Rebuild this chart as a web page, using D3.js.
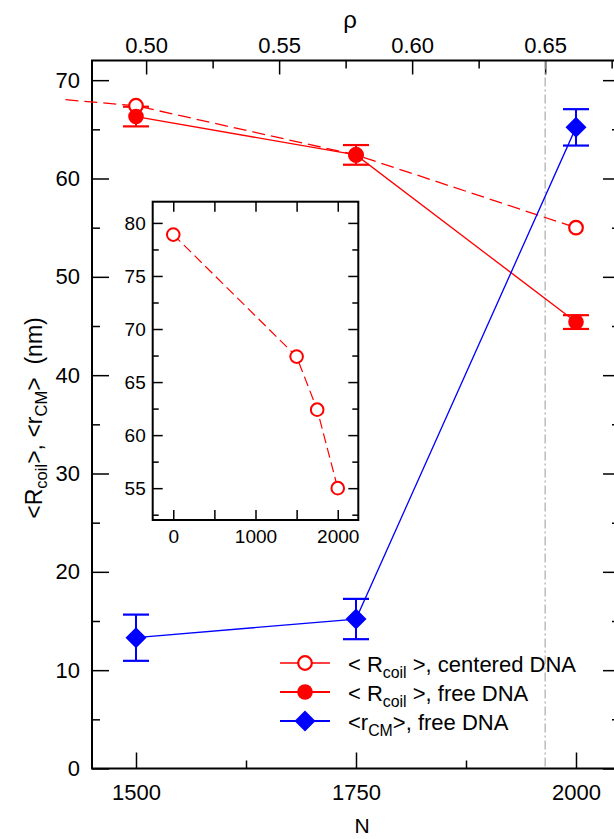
<!DOCTYPE html>
<html>
<head>
<meta charset="utf-8">
<script src="https://cdn.jsdelivr.net/npm/d3@7"></script>
<style>
    body { margin: 0; background: #fff; }
    svg { display: block; font-family: 'Liberation Sans', Arial, sans-serif; }
</style>
</head>
<body>
<svg id="chart"></svg>
<script>
// Data
const nValues = [1500, 1750, 2000];
const rCoilFree = [66.3, 62.4, 45.4];
const rCoilFreeErr = [1.0, 1.0, 0.7];
const rCM = [13.3, 15.2, 65.2];
const rCMErr = [2.35, 2.05, 1.85];

// centered DNA series (also shown in the inset, incl. N = 0)
const nCentered = [0, 1500, 1750, 2000];
const rCoilCentered = [78.9, 67.4, 62.4, 55.0];

// tick values
const nTicks = [1500, 1750, 2000];
const nMinorTicks = [1625, 1875];
const rhoTicks = [0.50, 0.55, 0.60, 0.65];
const rhoMinorTicks = [0.525, 0.575, 0.625, 0.675];
const yTicks = [0, 10, 20, 30, 40, 50, 60, 70];
const yMinorTicks = [5, 15, 25, 35, 45, 55, 65];
const insetXTicks = [0, 1000, 2000];
const insetXMinorTicks = [500, 1500];
const insetYTicks = [55, 60, 65, 70, 75, 80];
const insetYMinorTicks = [52.5, 57.5, 62.5, 67.5, 72.5, 77.5];
const rhoMark = 0.65;
const rhoPerN = 3.308e-4;

const legendSeries = ['centered', 'free', 'cm'];
const legendPre = ['< R', '< R', '<r'];
const legendSub = ['coil', 'coil', 'CM'];
const legendPost = [' >, centered DNA', ' >, free DNA', '>, free DNA'];

const RED = '#ff0000';
const BLUE = '#0000ff';
const FONT = 22;

const width = 614, height = 839;
const margin = { left: 92, right: 620, top: 60.5, bottom: 768.5 };

const svg = d3.select('#chart')
    .attr('width', width)
    .attr('height', height);

// Scales
const x = d3.scaleLinear().domain([1450, 2050]).range([margin.left, margin.right]);
const rho = d3.scaleLinear().domain([1450 * rhoPerN, 2050 * rhoPerN]).range([margin.left, margin.right]);
const y = d3.scaleLinear().domain([0, 72]).range([margin.bottom, margin.top]);

function styleAxis(g, size) {
    g.select('.domain').remove();
    g.selectAll('.tick line').attr('stroke', '#000').attr('stroke-width', 1.5);
    g.selectAll('.tick text')
        .attr('fill', '#000')
        .attr('font-size', size)
        .attr('font-family', "'Liberation Sans', Arial, sans-serif");
}

// Main axes
svg.append('g')
    .attr('transform', `translate(0, ${margin.bottom})`)
    .call(d3.axisBottom(x).tickValues(nTicks).tickSize(-16).tickPadding(16).tickFormat(d3.format('d')))
    .call(g => styleAxis(g, FONT));
svg.append('g')
    .attr('transform', `translate(0, ${margin.bottom})`)
    .call(d3.axisBottom(x).tickValues(nMinorTicks).tickSize(-8).tickFormat(''))
    .call(g => styleAxis(g, FONT));

svg.append('g')
    .attr('transform', `translate(0, ${margin.top})`)
    .call(d3.axisTop(rho).tickValues(rhoTicks).tickSize(-14).tickPadding(8).tickFormat(d3.format('.2f')))
    .call(g => styleAxis(g, FONT));
svg.append('g')
    .attr('transform', `translate(0, ${margin.top})`)
    .call(d3.axisTop(rho).tickValues(rhoMinorTicks).tickSize(-8).tickFormat(''))
    .call(g => styleAxis(g, FONT));

svg.append('g')
    .attr('transform', `translate(${margin.left}, 0)`)
    .call(d3.axisLeft(y).tickValues(yTicks).tickSize(-17).tickPadding(12))
    .call(g => styleAxis(g, FONT));
svg.append('g')
    .attr('transform', `translate(${margin.left}, 0)`)
    .call(d3.axisLeft(y).tickValues(yMinorTicks).tickSize(-8).tickFormat(''))
    .call(g => styleAxis(g, FONT));
svg.append('g')
    .attr('transform', `translate(${margin.right}, 0)`)
    .call(d3.axisRight(y).tickValues(yTicks).tickSize(-17).tickFormat(''))
    .call(g => styleAxis(g, FONT));
svg.append('g')
    .attr('transform', `translate(${margin.right}, 0)`)
    .call(d3.axisRight(y).tickValues(yMinorTicks).tickSize(-8).tickFormat(''))
    .call(g => styleAxis(g, FONT));

// dash-dot marker at rho = 0.65
svg.append('line')
    .attr('x1', rho(rhoMark)).attr('x2', rho(rhoMark))
    .attr('y1', margin.top).attr('y2', margin.bottom)
    .attr('stroke', '#aaaaaa')
    .attr('stroke-width', 1.2)
    .attr('stroke-dasharray', '9,3,2,3');

// Frame
svg.append('rect')
    .attr('x', margin.left)
    .attr('y', margin.top)
    .attr('width', margin.right - margin.left)
    .attr('height', margin.bottom - margin.top)
    .attr('fill', 'none')
    .attr('stroke', '#000')
    .attr('stroke-width', 2);

// Axis labels
svg.append('text')
    .attr('x', 350).attr('y', 28)
    .attr('text-anchor', 'middle')
    .attr('font-size', 24)
    .text('ρ');

svg.append('text')
    .attr('x', 362).attr('y', 833)
    .attr('text-anchor', 'middle')
    .attr('font-size', 21)
    .text('N');

const yLabel = svg.append('text')
    .attr('transform', 'translate(42, 418) rotate(-90)')
    .attr('text-anchor', 'middle')
    .attr('font-size', 23)
    .attr('xml:space', 'preserve')
    .style('white-space', 'pre');
yLabel.append('tspan').text('<R');
yLabel.append('tspan').attr('font-size', 23 * 0.72).attr('dy', 5).text('coil');
yLabel.append('tspan').attr('dy', -5).text('>, <r');
yLabel.append('tspan').attr('font-size', 23 * 0.72).attr('dy', 5).text('CM');
yLabel.append('tspan').attr('dy', -5).text('>  (nm)');

// Series
svg.append('clipPath')
    .attr('id', 'main-clip')
    .append('rect')
    .attr('x', 62).attr('y', 0)
    .attr('width', margin.right - 62).attr('height', height);

const plot = svg.append('g').attr('clip-path', 'url(#main-clip)');

const line = d3.line().x(d => x(d[0])).y(d => y(d[1]));

plot.append('path')
    .datum(d3.zip(nCentered, rCoilCentered))
    .attr('d', line)
    .attr('fill', 'none')
    .attr('stroke', RED)
    .attr('stroke-width', 1.3)
    .attr('stroke-dasharray', '13,6');

plot.append('path')
    .datum(d3.zip(nValues, rCoilFree))
    .attr('d', line)
    .attr('fill', 'none')
    .attr('stroke', RED)
    .attr('stroke-width', 1.3);

plot.append('path')
    .datum(d3.zip(nValues, rCM))
    .attr('d', line)
    .attr('fill', 'none')
    .attr('stroke', BLUE)
    .attr('stroke-width', 1.3);

function errorBars(g, xs, vals, errs, color, capW) {
    xs.forEach((n, i) => {
        const cx = x(n);
        const y0 = y(vals[i] - errs[i]);
        const y1 = y(vals[i] + errs[i]);
        g.append('line')
            .attr('x1', cx).attr('x2', cx).attr('y1', y0).attr('y2', y1)
            .attr('stroke', color).attr('stroke-width', 2);
        [y0, y1].forEach(yy => {
            g.append('line')
                .attr('x1', cx - capW / 2).attr('x2', cx + capW / 2)
                .attr('y1', yy).attr('y2', yy)
                .attr('stroke', color).attr('stroke-width', 2.2);
        });
    });
}

errorBars(plot, nValues, rCoilFree, rCoilFreeErr, RED, 26);
errorBars(plot, nValues, rCM, rCMErr, BLUE, 26);

const diamond = 'M0,-10.5L10.5,0L0,10.5L-10.5,0Z';

function drawMarker(g, type, cx, cy) {
    if (type === 'centered') {
        g.append('circle')
            .attr('cx', cx).attr('cy', cy).attr('r', 6.8)
            .attr('fill', '#fff').attr('stroke', RED).attr('stroke-width', 2.2);
    } else if (type === 'free') {
        g.append('circle')
            .attr('cx', cx).attr('cy', cy).attr('r', 7.8)
            .attr('fill', RED);
    } else {
        g.append('path')
            .attr('d', diamond)
            .attr('transform', `translate(${cx}, ${cy})`)
            .attr('fill', BLUE);
    }
}

nCentered.forEach((n, i) => {
    if (n >= 1450) drawMarker(plot, 'centered', x(n), y(rCoilCentered[i]));
});
nValues.forEach((n, i) => drawMarker(plot, 'free', x(n), y(rCoilFree[i])));
nValues.forEach((n, i) => drawMarker(plot, 'cm', x(n), y(rCM[i])));

// Legend
const legendY = [663, 692, 721];
legendSeries.forEach((s, i) => {
    const ly = legendY[i];
    const color = s === 'cm' ? BLUE : RED;
    svg.append('line')
        .attr('x1', 280).attr('x2', 330)
        .attr('y1', ly).attr('y2', ly)
        .attr('stroke', color)
        .attr('stroke-width', s === 'centered' ? 1.3 : 2);
    drawMarker(svg, s, 305, ly);

    const t = svg.append('text')
        .attr('x', 348).attr('y', ly + 9)
        .attr('font-size', FONT);
    t.append('tspan').text(legendPre[i]);
    t.append('tspan').attr('font-size', FONT * 0.72).attr('dy', 6).text(legendSub[i]);
    t.append('tspan').attr('dy', -6).text(legendPost[i]);
});

// Inset
const inset = { left: 152.7, right: 358.3, top: 201.7, bottom: 520 };
const ix = d3.scaleLinear().domain([-250, 2250]).range([inset.left, inset.right]);
const iy = d3.scaleLinear().domain([52, 82]).range([inset.bottom, inset.top]);
const INSET_FONT = 19;

svg.append('rect')
    .attr('x', inset.left).attr('y', inset.top)
    .attr('width', inset.right - inset.left)
    .attr('height', inset.bottom - inset.top)
    .attr('fill', '#fff');

svg.append('g')
    .attr('transform', `translate(0, ${inset.bottom})`)
    .call(d3.axisBottom(ix).tickValues(insetXTicks).tickSize(-10).tickPadding(10).tickFormat(d3.format('d')))
    .call(g => styleAxis(g, INSET_FONT));
svg.append('g')
    .attr('transform', `translate(0, ${inset.bottom})`)
    .call(d3.axisBottom(ix).tickValues(insetXMinorTicks).tickSize(-10).tickFormat(''))
    .call(g => styleAxis(g, INSET_FONT));
svg.append('g')
    .attr('transform', `translate(0, ${inset.top})`)
    .call(d3.axisTop(ix).tickValues(insetXTicks.concat(insetXMinorTicks)).tickSize(-10).tickFormat(''))
    .call(g => styleAxis(g, INSET_FONT));
svg.append('g')
    .attr('transform', `translate(${inset.left}, 0)`)
    .call(d3.axisLeft(iy).tickValues(insetYTicks).tickSize(-10).tickPadding(7))
    .call(g => styleAxis(g, INSET_FONT));
svg.append('g')
    .attr('transform', `translate(${inset.left}, 0)`)
    .call(d3.axisLeft(iy).tickValues(insetYMinorTicks).tickSize(-6).tickFormat(''))
    .call(g => styleAxis(g, INSET_FONT));
svg.append('g')
    .attr('transform', `translate(${inset.right}, 0)`)
    .call(d3.axisRight(iy).tickValues(insetYTicks).tickSize(-10).tickFormat(''))
    .call(g => styleAxis(g, INSET_FONT));
svg.append('g')
    .attr('transform', `translate(${inset.right}, 0)`)
    .call(d3.axisRight(iy).tickValues(insetYMinorTicks).tickSize(-6).tickFormat(''))
    .call(g => styleAxis(g, INSET_FONT));

svg.append('rect')
    .attr('x', inset.left).attr('y', inset.top)
    .attr('width', inset.right - inset.left)
    .attr('height', inset.bottom - inset.top)
    .attr('fill', 'none')
    .attr('stroke', '#000')
    .attr('stroke-width', 2);

svg.append('path')
    .datum(d3.zip(nCentered, rCoilCentered))
    .attr('d', d3.line().x(d => ix(d[0])).y(d => iy(d[1])))
    .attr('fill', 'none')
    .attr('stroke', RED)
    .attr('stroke-width', 1.2)
    .attr('stroke-dasharray', '10,5');

nCentered.forEach((n, i) => {
    svg.append('circle')
        .attr('cx', ix(n)).attr('cy', iy(rCoilCentered[i])).attr('r', 6.3)
        .attr('fill', '#fff').attr('stroke', RED).attr('stroke-width', 2);
});
</script>
</body>
</html>
